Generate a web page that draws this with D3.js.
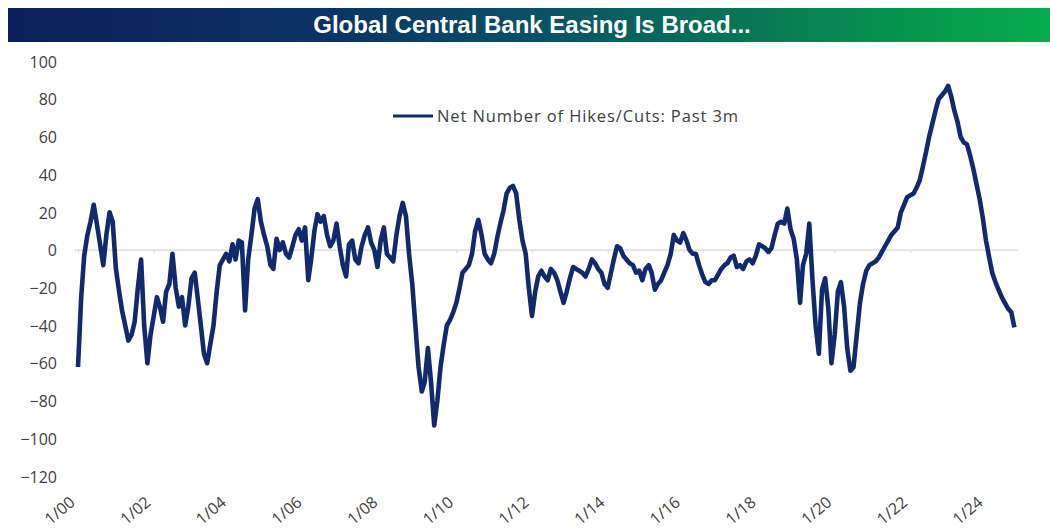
<!DOCTYPE html>
<html>
<head>
<meta charset="utf-8">
<script src="https://cdn.jsdelivr.net/npm/d3@7"></script>
<style>
  html, body { margin: 0; padding: 0; background: #ffffff; }
  svg { display: block; }
</style>
</head>
<body>
<svg id="chart" width="1050" height="531"></svg>
<script>
// ---- DATA (monthly readings, Jan 2000 .. Oct 2024) ----
const titleText = "Global Central Bank Easing Is Broad...";
const seriesName = "Net Number of Hikes/Cuts: Past 3m";
const startMonth = "2000-01";
const netHikesCuts = [
  // 2000
  -62, -25, -3, 8, 15, 24, 14, 3, -8, 8, 20, 15,
  // 2001
  -10, -22, -32, -40, -48, -45, -38, -20, -5, -40, -60, -45,
  // 2002
  -35, -25, -30, -38, -22, -18, -2, -20, -30, -25, -40, -30,
  // 2003
  -15, -12, -25, -40, -55, -60, -50, -40, -22, -8, -5, -2,
  // 2004
  -6, 3, -5, 5, 4, -32, -5, 8, 22, 27, 15, 8,
  // 2005
  2, -8, -10, 6, 0, 4, -2, -4, 2, 8, 11, 5,
  // 2006
  12, -16, -5, 10, 19, 15, 18, 8, 2, 5, 14, 2,
  // 2007
  -8, -14, 3, 5, -5, -7, 2, 8, 12, 4, 0, -9,
  // 2008
  5, 12, -2, -4, -6, 8, 18, 25, 18, -2, -18, -40,
  // 2009
  -62, -75, -70, -52, -70, -93, -80, -62, -50, -40, -37, -33,
  // 2010
  -28, -20, -12, -10, -8, -2, 10, 16, 8, -2, -5, -7,
  // 2011
  -2, 7, 14, 21, 30, 33, 34, 30, 16, 5, -2, -20,
  // 2012
  -35, -22, -14, -11, -14, -16, -10, -12, -16, -22, -28, -22,
  // 2013
  -15, -9, -10, -11, -12, -14, -10, -5, -7, -10, -12, -18,
  // 2014
  -20, -12, -5, 2, 1, -3, -5, -7, -8, -12, -11, -16,
  // 2015
  -10, -8, -12, -21, -18, -16, -12, -8, -2, 8, 5, 4,
  // 2016
  9, 5, 0, -2, -2, -8, -13, -17, -18, -16, -16, -13,
  // 2017
  -10, -8, -7, -4, -3, -9, -8, -10, -6, -5, -7, -3,
  // 2018
  3, 2, 1, -1, 1, 8, 14, 15, 14, 22, 11, 6,
  // 2019
  -5, -28, -8, -2, 14, -16, -40, -55, -21, -15, -31, -60,
  // 2020
  -45, -22, -17, -30, -52, -64, -62, -45, -28, -18, -11, -8,
  // 2021
  -7, -6, -4, -1, 2, 5, 8, 10, 12, 20, 24, 28,
  // 2022
  29, 30, 33, 37, 44, 52, 60, 67, 74, 80, 82, 84,
  // 2023
  87, 81, 74, 68, 60, 57, 56, 50, 43, 35, 27, 17,
  // 2024
  5, -4, -12, -17, -21, -25, -28, -31, -33, -41
];
const yTicks = [100, 80, 60, 40, 20, 0, -20, -40, -60, -80, -100, -120];
const xTickYears = [2000, 2002, 2004, 2006, 2008, 2010, 2012, 2014, 2016, 2018, 2020, 2022, 2024];
const xTickLabels = ["1/00", "1/02", "1/04", "1/06", "1/08", "1/10", "1/12", "1/14", "1/16", "1/18", "1/20", "1/22", "1/24"];

// ---- BUILD ----
const parseMonth = d3.timeParse("%Y-%m");
const t0 = parseMonth(startMonth);
const data = netHikesCuts.map((v, i) => ({ date: d3.timeMonth.offset(t0, i), value: v }));

const svg = d3.select("#chart");
const lineColor = "#12296c";
const textColor = "#404040";
const font = "'Open Sans', 'Liberation Sans', sans-serif";

// Title banner with gradient
const defs = svg.append("defs");
const grad = defs.append("linearGradient").attr("id", "titleGrad")
  .attr("x1", "0%").attr("x2", "100%").attr("y1", "0%").attr("y2", "0%");
[
  ["0%", "#0c1f5c"],
  ["30%", "#0c3263"],
  ["50%", "#0b4f66"],
  ["70%", "#097456"],
  ["88%", "#05994c"],
  ["100%", "#06ad4d"]
].forEach(([o, c]) => grad.append("stop").attr("offset", o).attr("stop-color", c));

svg.append("rect").attr("x", 8).attr("y", 8).attr("width", 1042).attr("height", 34)
  .attr("fill", "url(#titleGrad)");
svg.append("text").attr("x", 532).attr("y", 33)
  .attr("text-anchor", "middle")
  .attr("fill", "#ffffff")
  .attr("font-family", "'Liberation Sans Narrow', 'Liberation Sans', sans-serif")
  .attr("font-weight", "bold")
  .attr("font-size", 24)
  .text(titleText);

// Scales
const x = d3.scaleTime()
  .domain([new Date(2000, 0, 1), new Date(2024, 0, 1)])
  .range([78, 986]);
const y = d3.scaleLinear().domain([-120, 100]).range([476.4, 61.4]);

// Y axis labels
const yAxis = d3.axisLeft(y).tickValues(yTicks).tickSize(0).tickPadding(0)
  .tickFormat(d3.format("d"));
const gy = svg.append("g").attr("transform", "translate(57,0)").call(yAxis);
gy.select(".domain").remove();
gy.selectAll("text")
  .attr("font-family", font).attr("font-size", 16).attr("fill", textColor)
  .attr("dy", "0.36em");

// Zero line with small ticks
svg.append("line")
  .attr("x1", 75).attr("x2", 1018)
  .attr("y1", y(0)).attr("y2", y(0))
  .attr("stroke", "#d9d9d9").attr("stroke-width", 1.2);
const xAxisZero = d3.axisBottom(x)
  .tickValues(xTickYears.map(yr => new Date(yr, 0, 1)))
  .tickSize(3).tickFormat("");
const gz = svg.append("g").attr("transform", `translate(0,${y(0)})`).call(xAxisZero);
gz.select(".domain").remove();
gz.selectAll("line").attr("stroke", "#d9d9d9");

// X labels (rotated)
const xAxis = d3.axisBottom(x)
  .tickValues(xTickYears.map(yr => new Date(yr, 0, 1)))
  .tickSize(0)
  .tickFormat((d, i) => xTickLabels[i]);
const gx = svg.append("g").attr("transform", "translate(0,0)").call(xAxis);
gx.select(".domain").remove();
gx.selectAll(".tick").attr("transform", d => `translate(${x(d) - 2},504)`);
gx.selectAll("text")
  .attr("font-family", font).attr("font-size", 16).attr("fill", textColor)
  .attr("text-anchor", "end")
  .attr("x", 0).attr("y", 0).attr("dy", 0)
  .attr("transform", "rotate(-40)");

// Series line
const line = d3.line().x(d => x(d.date)).y(d => y(d.value));
svg.append("path").datum(data)
  .attr("d", line)
  .attr("fill", "none")
  .attr("stroke", lineColor)
  .attr("stroke-width", 4.6)
  .attr("stroke-linejoin", "round");

// Legend
svg.append("line").attr("x1", 393).attr("x2", 433).attr("y1", 116).attr("y2", 116)
  .attr("stroke", lineColor).attr("stroke-width", 3.2);
svg.append("text").attr("x", 437).attr("y", 121.5)
  .attr("font-family", font).attr("font-size", 16.5).attr("fill", textColor)
  .attr("textLength", 301).attr("lengthAdjust", "spacing")
  .text(seriesName);
</script>
</body>
</html>
